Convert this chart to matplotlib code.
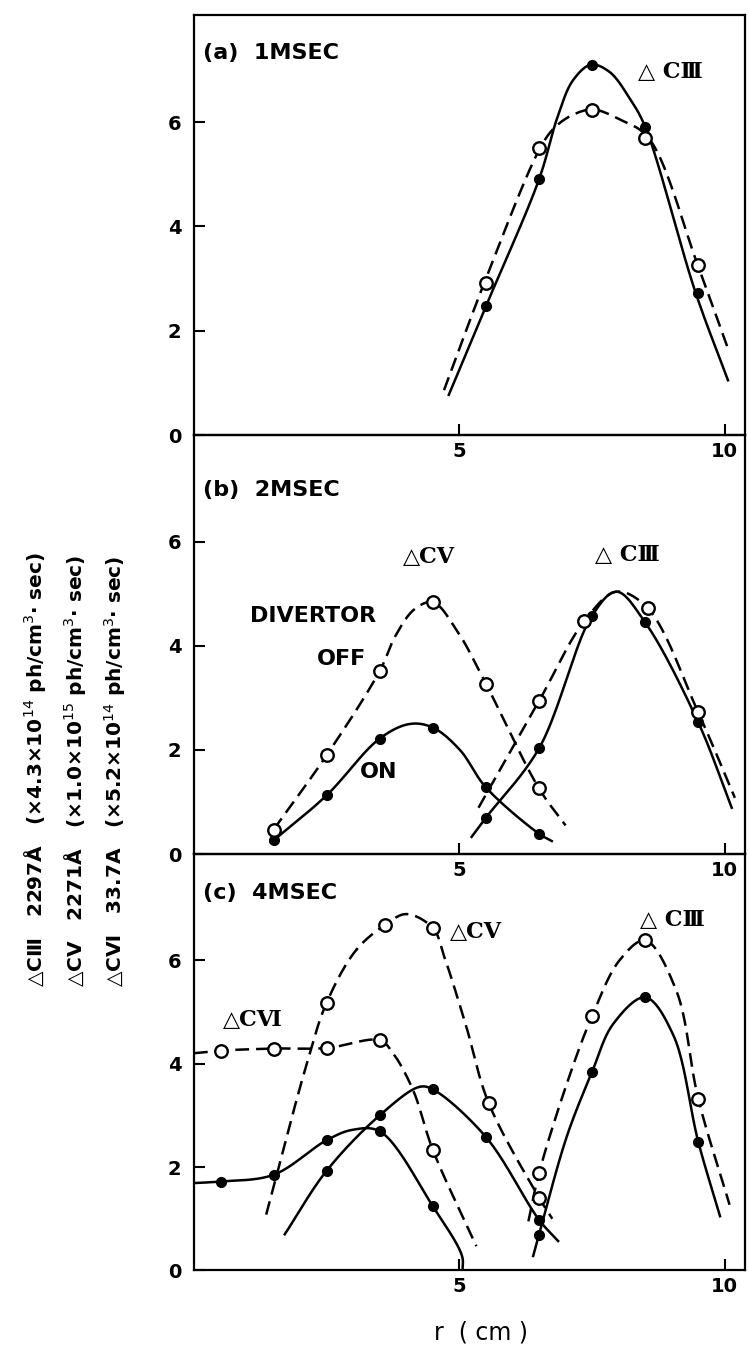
import numpy as np
import matplotlib.pyplot as plt

# chord radius (cm) and line emission, in units given on the left
# (a) 1 msec, C III only
r_a = [5.5, 6.5, 7.5, 8.5, 9.5]
c3_on_a = [2.47, 4.90, 7.10, 5.91, 2.73]
c3_off_a = [2.92, 5.50, 6.24, 5.70, 3.26]

# (b) 2 msec
r_b5 = [1.5, 2.5, 3.5, 4.5, 5.5, 6.5]
c5_on_b = [0.27, 1.13, 2.22, 2.43, 1.28, 0.39]
c5_off_b = [0.47, 1.90, 3.52, 4.84, 3.27, 1.26]
r_b3_on = [5.5, 6.5, 7.5, 8.5, 9.5]
c3_on_b = [0.70, 2.03, 4.58, 4.45, 2.53]
r_b3_off = [6.5, 7.35, 8.55, 9.5]
c3_off_b = [2.94, 4.47, 4.72, 2.72]

# (c) 4 msec
r_c6 = [0.5, 1.5, 2.5, 3.5, 4.5]
c6_on_c = [1.72, 1.85, 2.52, 2.69, 1.24]
c6_off_c = [4.25, 4.29, 4.30, 4.45, 2.33]
r_c5_on = [2.5, 3.5, 4.5, 5.5, 6.5]
c5_on_c = [1.93, 3.00, 3.50, 2.58, 0.98]
r_c5_off = [2.5, 3.6, 4.5, 5.55, 6.5]
c5_off_c = [5.18, 6.68, 6.62, 3.24, 1.41]
r_c3 = [6.5, 7.5, 8.5, 9.5]
c3_on_c = [0.69, 3.84, 5.28, 2.49]
c3_off_c = [1.88, 4.92, 6.38, 3.32]

# hand-drawn guide curves, traced as (r, value) nodes
curve_a_on = ([4.80, 5.5, 6.5, 6.85, 7.14, 7.48, 7.83, 8.21, 8.5, 9.45, 10.06],
              [0.77, 2.47, 4.90, 6.10, 6.80, 7.10, 6.96, 6.45, 5.91, 2.73, 1.05])
curve_a_off = ([4.71, 5.47, 6.52, 6.80, 7.14, 7.52, 8.02, 8.56, 9.49, 10.08],
               [0.86, 2.92, 5.50, 5.90, 6.14, 6.24, 6.05, 5.70, 3.26, 1.60])

curve_b5_off = ([1.5, 2.5, 3.5, 3.8, 4.15, 4.5, 4.95, 5.5, 6.5, 7.0],
                [0.47, 1.90, 3.52, 4.20, 4.70, 4.84, 4.30, 3.27, 1.26, 0.55])
curve_b5_on = ([1.45, 2.5, 3.5, 4.07, 4.5, 5.01, 5.5, 6.5, 6.74],
               [0.22, 1.13, 2.22, 2.50, 2.43, 2.00, 1.28, 0.39, 0.25])
curve_b3_off = ([5.36, 6.5, 7.35, 7.96, 8.55, 9.5, 10.19],
                [0.89, 2.94, 4.47, 5.04, 4.72, 2.72, 1.08])
curve_b3_on = ([5.23, 5.5, 6.5, 7.5, 7.96, 8.5, 9.5, 10.13],
               [0.33, 0.70, 2.03, 4.58, 5.04, 4.45, 2.53, 0.89])

curve_c6_off = ([0.0, 0.5, 1.5, 2.5, 3.5, 3.75, 4.13, 4.5, 5.32],
                [4.20, 4.25, 4.29, 4.30, 4.45, 4.20, 3.48, 2.33, 0.47])
curve_c6_on = ([0.0, 0.5, 1.5, 2.5, 2.99, 3.5, 4.5, 5.05, 5.06],
               [1.69, 1.72, 1.85, 2.52, 2.72, 2.69, 1.24, 0.28, 0.0])
curve_c5_off = ([1.36, 2.12, 2.5, 3.06, 3.6, 4.0, 4.5, 4.72, 5.12, 5.55, 6.5, 6.75],
                [1.08, 3.98, 5.18, 6.20, 6.68, 6.89, 6.62, 6.05, 4.75, 3.24, 1.41, 1.00])
curve_c5_on = ([1.71, 2.5, 3.5, 4.25, 4.5, 5.5, 6.5, 6.86],
               [0.70, 1.93, 3.00, 3.55, 3.50, 2.58, 0.98, 0.57])
curve_c3_off = ([6.30, 6.5, 7.02, 7.5, 8.02, 8.5, 9.09, 9.5, 10.09],
                [0.95, 1.88, 3.60, 4.92, 6.00, 6.38, 5.40, 3.32, 1.27])
curve_c3_on = ([6.39, 6.5, 7.02, 7.5, 7.90, 8.5, 9.03, 9.5, 9.91],
               [0.28, 0.69, 2.58, 3.84, 4.77, 5.28, 4.55, 2.49, 1.05])


def smooth(xs, ys, n=24):
    # centripetal Catmull-Rom through the traced nodes
    p = np.column_stack([xs, ys]).astype(float)
    p = np.vstack([2 * p[0] - p[1], p, 2 * p[-1] - p[-2]])
    out = []
    for i in range(len(p) - 3):
        p0, p1, p2, p3 = p[i], p[i + 1], p[i + 2], p[i + 3]
        t0 = 0.0
        t1 = t0 + np.linalg.norm(p1 - p0) ** 0.5
        t2 = t1 + np.linalg.norm(p2 - p1) ** 0.5
        t3 = t2 + np.linalg.norm(p3 - p2) ** 0.5
        t = np.linspace(t1, t2, n)[:, None]
        a1 = (t1 - t) / (t1 - t0) * p0 + (t - t0) / (t1 - t0) * p1
        a2 = (t2 - t) / (t2 - t1) * p1 + (t - t1) / (t2 - t1) * p2
        a3 = (t3 - t) / (t3 - t2) * p2 + (t - t2) / (t3 - t2) * p3
        b1 = (t2 - t) / (t2 - t0) * a1 + (t - t0) / (t2 - t0) * a2
        b2 = (t3 - t) / (t3 - t1) * a2 + (t - t1) / (t3 - t1) * a3
        c = (t2 - t) / (t2 - t1) * b1 + (t - t1) / (t2 - t1) * b2
        out.append(c)
    out = np.vstack(out)
    return out[:, 0], out[:, 1]


LW = 1.8
DASH = (5.5, 2.8)
ROMAN = ['DejaVu Serif', 'DejaVu Sans']


def on_curve(ax, curve):
    x, y = smooth(*curve)
    ax.plot(x, y, color='black', lw=LW, zorder=2)


def off_curve(ax, curve):
    x, y = smooth(*curve)
    ax.plot(x, y, color='black', lw=LW, dashes=DASH, zorder=2)


def on_points(ax, r, v):
    ax.plot(r, v, 'o', color='black', ms=7, zorder=4, ls='none')


def off_points(ax, r, v):
    ax.plot(r, v, 'o', mfc='white', mec='black', mew=1.7, ms=9, zorder=5, ls='none')


def label(ax, x, y, s, **kw):
    ax.text(x, y, s, va='center', fontweight='bold', **kw)


fig = plt.figure(figsize=(7.49, 13.49), dpi=100)
left, width = 0.259, 0.7356
ax_a = fig.add_axes([left, 0.6775, width, 0.3113])
ax_b = fig.add_axes([left, 0.3669, width, 0.3106])
ax_c = fig.add_axes([left, 0.0582, width, 0.3087])

for ax in (ax_a, ax_b, ax_c):
    ax.patch.set_visible(False)
    ax.set_xlim(0, 10.38)
    ax.set_ylim(0, 8.05)
    ax.set_xticks([5, 10])
    ax.set_yticks([0, 2, 4, 6])
    ax.tick_params(direction='in', length=8, width=1.5, labelsize=14, pad=5)
    ax.tick_params(axis='y', pad=9)
    for t in ax.get_xticklabels() + ax.get_yticklabels():
        t.set_fontweight('bold')
    for s in ax.spines.values():
        s.set_linewidth(1.6)

# (a) 1 msec
on_curve(ax_a, curve_a_on)
off_curve(ax_a, curve_a_off)
on_points(ax_a, r_a, c3_on_a)
off_points(ax_a, r_a, c3_off_a)
label(ax_a, 0.17, 7.32, '(a)  1MSEC', fontsize=16)
label(ax_a, 8.36, 6.96, '△ CⅢ', fontsize=16, family=ROMAN)

# (b) 2 msec
on_curve(ax_b, curve_b5_on)
off_curve(ax_b, curve_b5_off)
on_curve(ax_b, curve_b3_on)
off_curve(ax_b, curve_b3_off)
on_points(ax_b, r_b5, c5_on_b)
off_points(ax_b, r_b5, c5_off_b)
on_points(ax_b, r_b3_on, c3_on_b)
off_points(ax_b, r_b3_off, c3_off_b)
label(ax_b, 0.17, 6.99, '(b)  2MSEC', fontsize=16)
label(ax_b, 3.94, 5.70, '△CⅤ', fontsize=16, family=ROMAN)
label(ax_b, 7.55, 5.75, '△ CⅢ', fontsize=16, family=ROMAN)
label(ax_b, 2.24, 4.58, 'DIVERTOR', fontsize=16, ha='center')
label(ax_b, 2.78, 3.75, 'OFF', fontsize=16, ha='center')
label(ax_b, 3.47, 1.57, 'ON', fontsize=16, ha='center')

# (c) 4 msec
on_curve(ax_c, curve_c6_on)
off_curve(ax_c, curve_c6_off)
on_curve(ax_c, curve_c5_on)
off_curve(ax_c, curve_c5_off)
on_curve(ax_c, curve_c3_on)
off_curve(ax_c, curve_c3_off)
on_points(ax_c, r_c6, c6_on_c)
off_points(ax_c, r_c6, c6_off_c)
on_points(ax_c, r_c5_on, c5_on_c)
off_points(ax_c, r_c5_off, c5_off_c)
on_points(ax_c, r_c3, c3_on_c)
off_points(ax_c, r_c3, c3_off_c)
label(ax_c, 0.17, 7.30, '(c)  4MSEC', fontsize=16)
label(ax_c, 4.82, 6.54, '△CⅤ', fontsize=16, family=ROMAN)
label(ax_c, 8.40, 6.77, '△ CⅢ', fontsize=16, family=ROMAN)
label(ax_c, 0.55, 4.85, '△CⅥ', fontsize=16, family=ROMAN)

fig.text(0.642, 0.012, 'r  ( cm )', fontsize=17, ha='center', va='center')

# units for each line, written sideways along the left edge
units = [
    ('△CⅢ   2297Å   (×4.3×10$^{14}$ ph/cm$^3$· sec)', 0.047),
    ('△CⅤ   2271Å   (×1.0×10$^{15}$ ph/cm$^3$· sec)', 0.100),
    ('△CⅥ   33.7A   (×5.2×10$^{14}$ ph/cm$^3$· sec)', 0.154),
]
for txt, xf in units:
    fig.text(xf, 0.268, txt, rotation=90, fontsize=14.5, fontweight='bold',
             ha='center', va='bottom', family=['DejaVu Sans', 'DejaVu Serif'])

fig.savefig('out.png', dpi=100)
